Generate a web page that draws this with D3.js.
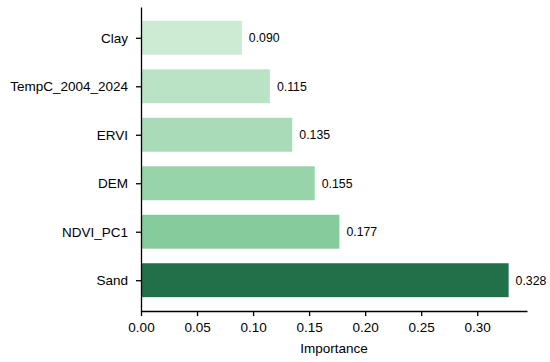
<!DOCTYPE html>
<html>
<head>
<meta charset="utf-8">
<script src="https://cdn.jsdelivr.net/npm/d3@7"></script>
<style>
  body { margin: 0; background: #fff; }
  text { font-family: "Liberation Sans", Arial, sans-serif; fill: #000; }
</style>
</head>
<body>
<div id="chart"></div>
<script>
  // Feature importance data (top to bottom)
  var features = ["Clay", "TempC_2004_2024", "ERVI", "DEM", "NDVI_PC1", "Sand"];
  var importance = [0.090, 0.115, 0.135, 0.155, 0.177, 0.328];
  var barColors = ["#cdead2", "#bae3c5", "#a8dbb7", "#97d4a9", "#86cb9c", "#217049"];
  var xTicks = [0.00, 0.05, 0.10, 0.15, 0.20, 0.25, 0.30];

  var width = 550, height = 362;
  var margin = { top: 7, right: 23, bottom: 51, left: 141 };

  var svg = d3.select("#chart").append("svg")
              .attr("width", width)
              .attr("height", height);

  // x scale: matplotlib-ish 5% margin on the right
  var xScale = d3.scaleLinear()
                 .domain([0, d3.max(importance) * 1.05])
                 .range([margin.left, width - margin.right]);

  // y scale: band positions with the default padding used by barh
  var yScale = d3.scaleLinear()
                 .domain([-0.635, 5.635])
                 .range([margin.top, height - margin.bottom]);
  var bandH = (yScale(0.7) - yScale(0));

  var rows = features.map(function(f, i) {
    return { name: f, value: importance[i], color: barColors[i], idx: i };
  });

  // Bars
  svg.selectAll("rect.bar")
     .data(rows)
     .enter()
     .append("rect")
     .attr("class", "bar")
     .attr("x", xScale(0))
     .attr("y", function(d) { return yScale(d.idx) - bandH / 2; })
     .attr("width", function(d) { return xScale(d.value) - xScale(0); })
     .attr("height", bandH)
     .attr("fill", function(d) { return d.color; });

  // Value labels
  svg.selectAll("text.val")
     .data(rows)
     .enter()
     .append("text")
     .attr("class", "val")
     .attr("x", function(d) { return xScale(d.value) + 7; })
     .attr("y", function(d) { return yScale(d.idx); })
     .attr("dy", "0.35em")
     .style("font-size", "12.3px")
     .text(function(d) { return d.value.toFixed(3); });

  // x axis
  var xAxis = d3.axisBottom(xScale)
                .tickValues(xTicks)
                .tickFormat(d3.format(".2f"))
                .tickSizeInner(5)
                .tickSizeOuter(0)
                .tickPadding(6);
  var gx = svg.append("g")
              .attr("transform", "translate(0," + (height - margin.bottom) + ")")
              .call(xAxis);
  gx.selectAll("text").style("font-size", "13.5px");

  // y axis
  var yAxis = d3.axisLeft(yScale)
                .tickValues(d3.range(features.length))
                .tickFormat(function(i) { return features[i]; })
                .tickSizeInner(5)
                .tickSizeOuter(0)
                .tickPadding(8);
  var gy = svg.append("g")
              .attr("transform", "translate(" + margin.left + ",0)")
              .call(yAxis);
  gy.selectAll("text").style("font-size", "13.5px");

  svg.selectAll(".domain, .tick line")
     .attr("stroke", "#000")
     .attr("stroke-width", 1.3);

  // Axis title
  svg.append("text")
     .attr("x", (margin.left + width - margin.right) / 2)
     .attr("y", 353)
     .attr("text-anchor", "middle")
     .style("font-size", "13.5px")
     .text("Importance");
</script>
</body>
</html>
